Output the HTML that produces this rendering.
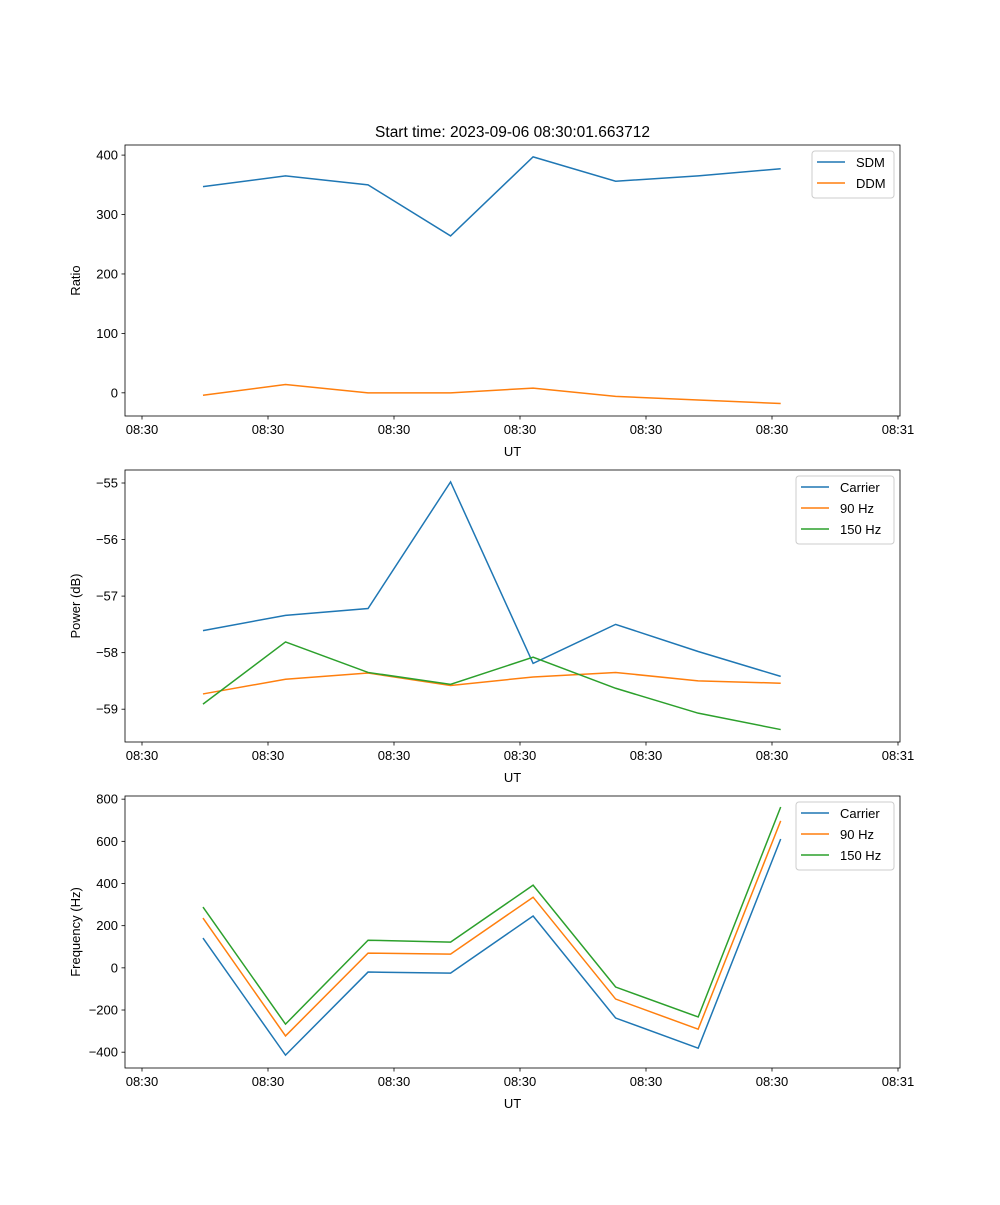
<!DOCTYPE html>
<html><head><meta charset="utf-8"><style>
body{margin:0;background:#fff}
svg text{font-family:"Liberation Sans","DejaVu Sans",sans-serif;font-size:13px;fill:#000}
</style></head><body>
<svg id="fig" width="1000" height="1200" xmlns="http://www.w3.org/2000/svg"></svg>
<script>
const times = [4.84, 11.39, 17.94, 24.49, 31.04, 37.59, 44.14, 50.69];
const xTickLabels = ["08:30","08:30","08:30","08:30","08:30","08:30","08:31"];
const sdm = [347, 365, 350, 264, 397, 356, 365, 377];
const ddm = [-4, 14, 0, 0, 8, -6, -12, -18];
const pCarrier = [-57.61, -57.34, -57.22, -54.98, -58.19, -57.50, -57.98, -58.42];
const p90 = [-58.73, -58.47, -58.36, -58.58, -58.43, -58.35, -58.50, -58.54];
const p150 = [-58.91, -57.81, -58.35, -58.56, -58.08, -58.63, -59.07, -59.36];
const fCarrier = [141, -414, -20, -25, 246, -238, -381, 611];
const f90 = [236, -323, 70, 65, 335, -148, -291, 697];
const f150 = [288, -267, 131, 122, 392, -91, -233, 763];
const ratioTicks = [0, 100, 200, 300, 400];
const powerTicks = [-59, -58, -57, -56, -55];
const freqTicks = [-400, -200, 0, 200, 400, 600, 800];

const NS = "http://www.w3.org/2000/svg";
const svg = document.getElementById('fig');
function mk(tag, attrs, parent){const e=document.createElementNS(NS,tag);for(const k in attrs)e.setAttribute(k,attrs[k]);(parent||svg).appendChild(e);return e;}
const C = ['#1f77b4','#ff7f0e','#2ca02c'];
const L = 125, R = 900;
const xScale = t => 142 + t * 12.6;

function panel(name, top, bottom, ymin, ymax, yticks, ylabel, series, names, legW, title){
  const g = mk('g', {});
  
  
  const ys = v => bottom - (v - ymin) / (ymax - ymin) * (bottom - top);
  series.forEach((s, i) => {
    const p = mk('polyline', {points: s.map((v, j) => xScale(times[j]) + ',' + ys(v)).join(' '), fill: 'none', stroke: C[i], 'stroke-width': 1.5}, g);
    
    
  });
  mk('rect', {x: L, y: top, width: R - L, height: bottom - top, fill: 'none', stroke: '#000', 'stroke-width': 0.8}, g);
  xTickLabels.forEach((lab, i) => {
    const x = 142 + i * 126;
    mk('line', {x1: x, x2: x, y1: bottom, y2: bottom + 3.5, stroke: '#000', 'stroke-width': 0.8}, g);
    const t = mk('text', {x: x, y: bottom + 18, 'text-anchor': 'middle'}, g);
    t.textContent = lab;
    
    
  });
  yticks.forEach(v => {
    const y = ys(v);
    mk('line', {x1: L - 3.5, x2: L, y1: y, y2: y, stroke: '#000', 'stroke-width': 0.8}, g);
    const t = mk('text', {x: L - 7, y: y + 4.5, 'text-anchor': 'end'}, g);
    t.textContent = v < 0 ? '\u2212' + Math.abs(v) : String(v);
    
    
  });
  const xl = mk('text', {x: (L + R) / 2, y: bottom + 40, 'text-anchor': 'middle'}, g);
  xl.textContent = 'UT';
  
  
  const cy = (top + bottom) / 2;
  const yl = mk('text', {x: 80, y: cy, 'text-anchor': 'middle', transform: 'rotate(-90 80 ' + cy + ')'}, g);
  yl.textContent = ylabel;
  
  
  if (title) {
    const tt = mk('text', {x: (L + R) / 2, y: top - 8, 'text-anchor': 'middle', style: 'font-size:15.5px'}, g);
    tt.textContent = title;
    
    
  }
  const lg = mk('g', {}, g);
  
  
  const lx = R - 6 - legW, ly = top + 6;
  mk('rect', {x: lx, y: ly, width: legW, height: 5 + names.length * 21, rx: 3, fill: '#fff', stroke: '#ccc', 'stroke-width': 1}, lg);
  names.forEach((n, i) => {
    const y = ly + 11 + i * 21;
    mk('line', {x1: lx + 5, x2: lx + 33, y1: y, y2: y, stroke: C[i], 'stroke-width': 1.5}, lg);
    const t = mk('text', {x: lx + 44, y: y + 5}, lg);
    t.textContent = n;
    
    
  });
}
panel('ratio', 145, 416, -39, 417, ratioTicks, 'Ratio', [sdm, ddm], ['SDM', 'DDM'], 82, 'Start time: 2023-09-06 08:30:01.663712');
panel('power', 470, 742, -59.58, -54.77, powerTicks, 'Power (dB)', [pCarrier, p90, p150], ['Carrier', '90 Hz', '150 Hz'], 98, null);
panel('frequency', 796, 1068, -475, 815, freqTicks, 'Frequency (Hz)', [fCarrier, f90, f150], ['Carrier', '90 Hz', '150 Hz'], 98, null);
</script>
</body></html>
